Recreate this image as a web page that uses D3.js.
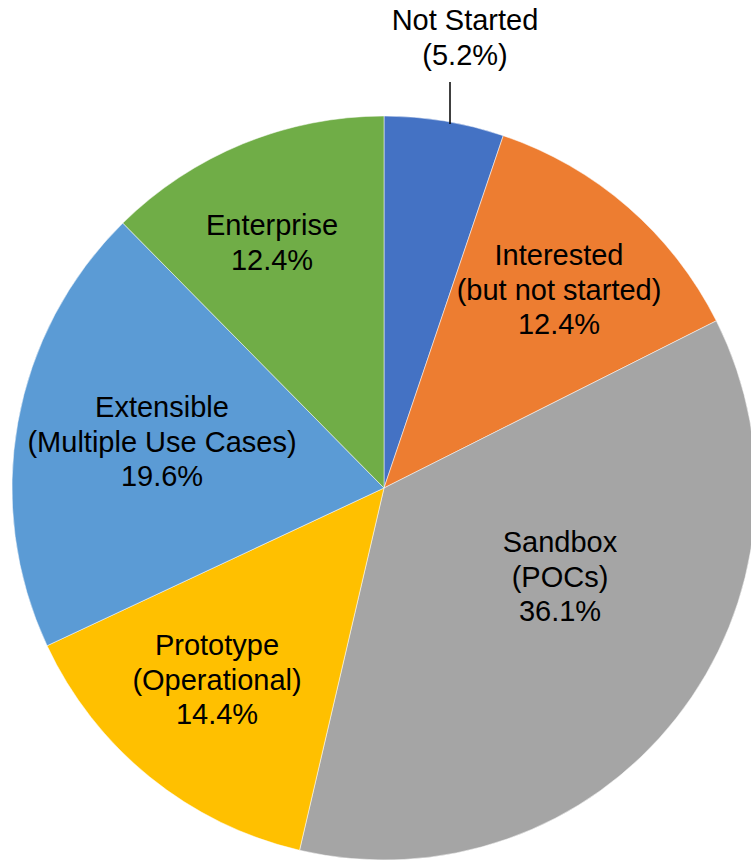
<!DOCTYPE html>
<html>
<head>
<meta charset="utf-8">
<script src="https://cdn.jsdelivr.net/npm/d3@7"></script>
<style>
  body { margin: 0; background: #fff; }
  svg { display: block; }
  text { font-family: "Liberation Sans", Arial, sans-serif; }
</style>
</head>
<body>
<div id="pie"></div>
<script>
// data
var categories = ["Not Started", "Interested", "Sandbox", "Prototype", "Extensible", "Enterprise"];
var values = [5.2, 12.4, 36.1, 14.4, 19.6, 12.4];
var labelLines = [
  ["Not Started", "(5.2%)"],
  ["Interested", "(but not started)", "12.4%"],
  ["Sandbox", "(POCs)", "36.1%"],
  ["Prototype", "(Operational)", "14.4%"],
  ["Extensible", "(Multiple Use Cases)", "19.6%"],
  ["Enterprise", "12.4%"]
];
var colors = ["#4472C4", "#ED7D31", "#A5A5A5", "#FFC000", "#5B9BD5", "#70AD47"];

// layout
var width = 751, height = 862;
var cx = 384, cy = 488, radius = 372;
var fontSize = 29, lineH = 34.5;
// first-baseline offset of each label from the pie centre
var labelOffset = [[81, -458], [175, -223], [176, 64], [-167, 167], [-222, -71], [-112, -253]];

var svg = d3.select("#pie")
  .append("svg")
    .attr("width", width)
    .attr("height", height);

var g = svg.append("g")
    .attr("transform", "translate(" + cx + "," + cy + ")");

var pie = d3.pie().sort(null).value(function(d) { return d; });
var arc = d3.arc().innerRadius(0).outerRadius(radius);
var arcs = pie(values);

// slices
g.selectAll("path")
  .data(arcs)
  .enter()
  .append("path")
    .attr("d", arc)
    .attr("fill", function(d, i) { return colors[i]; })
    .attr("stroke", "#fff")
    .attr("stroke-width", 0.5);

// leader line for the small slice
var lx = 66;
var ly = -Math.sqrt(radius * radius - lx * lx);
g.append("line")
    .attr("x1", lx).attr("x2", lx)
    .attr("y1", -406).attr("y2", ly + 2)
    .attr("stroke", "#000")
    .attr("stroke-width", 1.5);

// labels
var labels = g.selectAll("text.lbl")
  .data(arcs)
  .enter()
  .append("text")
    .attr("class", "lbl")
    .attr("text-anchor", "middle")
    .attr("font-size", fontSize)
    .attr("fill", "#000")
    .attr("transform", function(d, i) {
      return "translate(" + labelOffset[i][0] + "," + labelOffset[i][1] + ")";
    });

labels.each(function(d, i) {
  var t = d3.select(this);
  labelLines[i].forEach(function(line, j) {
    t.append("tspan")
      .attr("x", 0)
      .attr("y", j * lineH)
      .text(line);
  });
});
</script>
</body>
</html>
